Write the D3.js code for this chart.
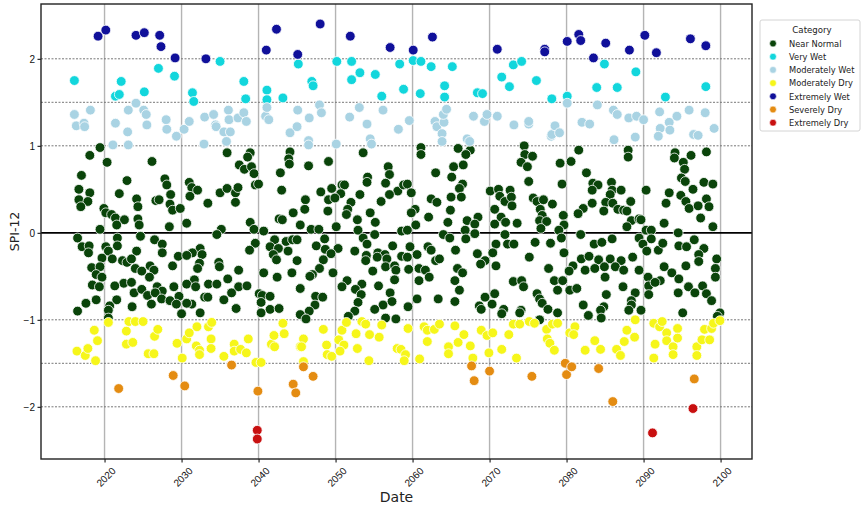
<!DOCTYPE html>
<html>
<head>
<meta charset="utf-8">
<script src="https://cdn.jsdelivr.net/npm/d3@7"></script>
<style>
  html, body { margin: 0; padding: 0; background: #fff; overflow: hidden; }
  svg { display: block; font-family: "DejaVu Sans", sans-serif; }
</style>
</head>
<body>
<svg id="chart" width="862" height="508"></svg>
<script>
// SPI-12 values: [year, spi]
var near_normal = [
  [2019.4,0.98],[2018.1,0.89],[2020.3,0.81],[2026.2,0.82],[2017.0,0.66],[2022.9,0.60],[2027.8,0.62],[2016.7,0.50],
  [2018.1,0.46],[2021.9,0.45],[2028.1,0.55],[2028.6,0.44],[2016.7,0.38],[2017.8,0.36],[2016.9,0.30],[2024.2,0.39],
  [2024.3,0.30],[2026.7,0.37],[2027.1,0.38],[2028.5,0.33],[2028.8,0.26],[2029.8,0.28],[2019.9,0.28],[2020.2,0.23],
  [2020.9,0.21],[2021.4,0.17],[2022.6,0.15],[2021.6,0.09],[2024.3,0.16],[2024.5,0.09],[2019.4,0.04],[2028.4,0.07],
  [2016.5,-0.06],[2017.1,-0.16],[2018.0,-0.15],[2017.9,-0.23],[2021.7,-0.06],[2021.7,-0.15],[2024.7,-0.04],[2026.5,-0.08],
  [2027.5,-0.13],[2027.5,-0.23],[2020.2,-0.16],[2020.5,-0.21],[2024.2,-0.21],[2019.7,-0.29],[2021.0,-0.30],[2022.3,-0.32],
  [2022.9,-0.34],[2023.5,-0.30],[2029.6,-0.27],[2028.8,-0.38],[2018.3,-0.40],[2019.4,-0.39],[2024.0,-0.41],[2024.8,-0.44],
  [2025.9,-0.38],[2026.4,-0.43],[2018.9,-0.48],[2019.7,-0.51],[2018.4,-0.60],[2019.3,-0.62],[2022.5,-0.58],[2023.5,-0.57],
  [2021.3,-0.61],[2025.8,-0.51],[2026.8,-0.62],[2027.5,-0.67],[2029.0,-0.62],[2023.8,-0.69],[2024.8,-0.65],[2025.6,-0.72],
  [2026.6,-0.69],[2027.4,-0.76],[2029.7,-0.73],[2018.9,-0.77],[2021.6,-0.77],[2017.6,-0.81],[2020.7,-0.84],[2023.6,-0.85],
  [2026.1,-0.82],[2028.5,-0.78],[2029.3,-0.82],[2016.5,-0.90],[2020.5,-0.89],[2020.5,-0.98],[2030.0,-0.93],
  [2035.9,0.92],[2038.9,0.92],[2038.6,0.87],[2044.1,0.93],[2043.9,0.85],[2044.0,0.79],[2037.5,0.78],[2038.2,0.73],
  [2039.1,0.76],[2039.4,0.68],[2042.8,0.69],[2031.0,0.58],[2031.3,0.52],[2032.1,0.49],[2031.1,0.42],[2035.0,0.46],
  [2035.9,0.51],[2037.0,0.46],[2037.3,0.52],[2039.6,0.55],[2040.0,0.56],[2043.0,0.49],[2033.4,0.34],[2037.0,0.35],
  [2044.5,0.23],[2030.7,0.11],[2038.9,0.12],[2042.7,0.16],[2043.1,0.15],[2039.4,0.04],[2035.2,0.04],[2034.6,-0.02],
  [2040.7,0.02],[2042.1,-0.08],[2043.6,-0.10],[2044.4,-0.08],[2039.6,-0.12],[2038.8,-0.20],[2041.5,-0.16],[2042.6,-0.18],
  [2043.8,-0.21],[2032.4,-0.18],[2031.4,-0.23],[2032.7,-0.25],[2030.7,-0.26],[2041.9,-0.25],[2042.3,-0.31],[2034.8,-0.34],
  [2032.3,-0.35],[2032.1,-0.41],[2034.9,-0.39],[2037.4,-0.43],[2040.7,-0.46],[2044.3,-0.46],[2042.4,-0.51],[2036.0,-0.53],
  [2031.7,-0.54],[2030.7,-0.59],[2031.8,-0.62],[2033.5,-0.59],[2034.6,-0.59],[2037.4,-0.62],[2038.5,-0.61],[2036.5,-0.69],
  [2040.1,-0.70],[2040.5,-0.72],[2041.5,-0.73],[2033.0,-0.74],[2033.4,-0.74],[2035.5,-0.77],[2040.3,-0.80],[2031.3,-0.82],
  [2030.7,-0.81],[2037.1,-0.87],[2041.5,-0.88],[2042.7,-0.87],[2032.4,-0.92],[2040.3,-0.92],
  [2053.6,0.92],[2049.1,0.82],[2046.5,0.77],[2056.8,0.76],[2057.0,0.67],[2054.2,0.64],[2054.1,0.58],[2056.5,0.57],
  [2049.5,0.51],[2050.8,0.55],[2051.2,0.55],[2048.1,0.47],[2050.7,0.45],[2058.1,0.48],[2058.8,0.55],[2057.0,0.44],
  [2053.2,0.44],[2049.1,0.38],[2049.9,0.40],[2046.1,0.38],[2052.0,0.35],[2055.9,0.36],[2051.6,0.27],[2046.0,0.27],
  [2049.0,0.25],[2051.4,0.21],[2054.5,0.23],[2052.8,0.15],[2055.2,0.12],[2045.4,0.09],[2046.8,0.04],[2047.8,0.04],
  [2050.1,0.07],[2052.9,0.03],[2058.6,0.02],[2045.0,-0.08],[2048.6,-0.07],[2055.1,-0.02],[2053.6,-0.06],[2047.5,-0.15],
  [2048.7,-0.19],[2050.3,-0.18],[2054.1,-0.13],[2057.4,-0.15],[2052.5,-0.21],[2049.4,-0.24],[2054.0,-0.26],[2055.5,-0.23],
  [2056.4,-0.25],[2053.9,-0.32],[2055.4,-0.28],[2056.7,-0.30],[2058.6,-0.27],[2048.4,-0.31],[2045.0,-0.32],[2056.5,-0.39],
  [2057.7,-0.38],[2047.9,-0.41],[2054.8,-0.44],[2049.7,-0.46],[2057.8,-0.43],[2047.0,-0.48],[2046.7,-0.50],[2057.7,-0.54],
  [2051.5,-0.55],[2053.4,-0.59],[2045.4,-0.64],[2050.8,-0.62],[2052.6,-0.65],[2055.6,-0.61],[2053.3,-0.71],[2057.1,-0.69],
  [2047.4,-0.73],[2048.3,-0.74],[2057.3,-0.79],[2047.3,-0.83],[2052.9,-0.80],[2056.2,-0.83],[2046.6,-0.90],[2055.1,-0.88],
  [2052.5,-0.90],[2045.4,-0.94],[2046.2,-0.99],[2051.7,-0.96],[2056.5,-0.98],[2057.8,-0.99],
  [2061.1,0.98],[2061.1,0.90],[2065.9,0.97],[2067.5,0.95],[2066.9,0.90],[2063.0,0.69],[2065.3,0.76],[2066.6,0.78],
  [2065.1,0.64],[2066.5,0.56],[2066.1,0.51],[2059.3,0.56],[2059.8,0.46],[2066.3,0.41],[2065.0,0.41],[2062.4,0.39],
  [2063.2,0.35],[2070.1,0.48],[2071.2,0.50],[2072.7,0.49],[2071.3,0.42],[2072.0,0.36],[2072.8,0.41],[2072.9,0.31],
  [2060.3,0.27],[2059.8,0.23],[2064.9,0.26],[2070.7,0.27],[2071.5,0.18],[2068.5,0.18],[2062.1,0.18],[2067.1,0.14],
  [2064.6,0.12],[2068.1,0.10],[2060.4,0.09],[2070.7,0.10],[2072.1,0.12],[2066.8,0.03],[2059.3,0.03],[2064.0,-0.02],
  [2064.8,-0.06],[2066.9,-0.07],[2068.1,-0.01],[2072.0,-0.02],[2072.3,-0.13],[2070.8,-0.13],[2073.2,-0.13],[2059.7,-0.16],
  [2062.0,-0.16],[2062.4,-0.20],[2060.6,-0.25],[2065.6,-0.20],[2068.4,-0.24],[2070.4,-0.23],[2063.0,-0.32],[2063.5,-0.30],
  [2069.4,-0.32],[2068.8,-0.36],[2070.8,-0.38],[2059.3,-0.28],[2059.5,-0.42],[2060.8,-0.41],[2061.7,-0.43],[2065.8,-0.41],
  [2066.5,-0.46],[2062.2,-0.51],[2060.8,-0.55],[2065.5,-0.55],[2073.1,-0.56],[2066.1,-0.66],[2069.4,-0.74],[2070.7,-0.70],
  [2060.6,-0.76],[2063.3,-0.76],[2065.5,-0.79],[2070.3,-0.82],[2068.7,-0.84],[2068.9,-0.88],[2071.8,-0.88],[2071.6,-0.93],
  [2059.4,-0.85],
  [2074.5,1.00],[2074.6,0.90],[2075.6,0.88],[2074.1,0.81],[2074.9,0.76],[2081.6,0.95],[2079.2,0.80],[2080.6,0.82],
  [2082.6,0.69],[2075.1,0.59],[2079.4,0.56],[2083.4,0.57],[2084.1,0.55],[2085.8,0.58],[2083.3,0.49],[2085.9,0.49],
  [2087.1,0.49],[2085.7,0.44],[2075.7,0.40],[2076.2,0.36],[2077.0,0.38],[2078.2,0.33],[2083.3,0.34],[2085.1,0.35],
  [2086.0,0.34],[2076.6,0.27],[2082.2,0.28],[2081.5,0.22],[2084.8,0.25],[2086.7,0.27],[2087.4,0.26],[2076.8,0.20],
  [2076.5,0.14],[2077.4,0.13],[2079.6,0.20],[2079.7,0.09],[2073.6,0.11],[2076.7,0.05],[2079.0,0.03],[2079.3,-0.06],
  [2081.8,-0.02],[2075.9,-0.11],[2077.9,-0.12],[2083.6,-0.13],[2084.6,-0.11],[2085.9,-0.07],[2079.7,-0.23],[2075.2,-0.28],
  [2081.9,-0.30],[2082.9,-0.27],[2084.2,-0.31],[2085.7,-0.30],[2087.1,-0.32],[2080.8,-0.38],[2082.4,-0.43],[2083.7,-0.41],
  [2084.9,-0.39],[2086.3,-0.39],[2087.4,-0.43],[2077.7,-0.41],[2080.3,-0.44],[2085.0,-0.51],[2078.4,-0.55],[2079.5,-0.55],
  [2074.2,-0.55],[2074.4,-0.62],[2080.4,-0.66],[2081.3,-0.64],[2078.8,-0.66],[2085.2,-0.71],[2087.3,-0.62],[2076.2,-0.70],
  [2076.5,-0.76],[2082.2,-0.83],[2076.8,-0.81],[2077.6,-0.88],[2084.8,-0.85],[2084.4,-0.89],[2074.1,-0.89],[2073.9,-0.92],
  [2078.8,-0.92],[2082.8,-0.95],[2084.5,-0.98],[2076.5,-1.00],
  [2088.0,0.95],[2088.0,0.87],[2094.1,0.92],[2094.0,0.86],[2096.2,0.89],[2098.2,0.93],[2095.2,0.81],[2095.3,0.73],
  [2094.9,0.63],[2095.4,0.59],[2097.8,0.58],[2099.0,0.56],[2090.3,0.49],[2096.4,0.50],[2093.3,0.46],[2094.8,0.43],
  [2098.2,0.39],[2088.3,0.36],[2092.9,0.34],[2095.5,0.36],[2095.9,0.28],[2097.1,0.31],[2098.5,0.30],[2087.8,0.25],
  [2097.4,0.17],[2088.4,0.14],[2089.4,0.16],[2089.7,0.15],[2092.7,0.11],[2099.0,0.07],[2087.8,0.07],[2090.3,0.03],
  [2091.0,0.03],[2094.5,0.00],[2089.4,-0.06],[2091.0,-0.07],[2089.9,-0.13],[2090.4,-0.21],[2091.9,-0.20],[2092.5,-0.12],
  [2094.6,-0.15],[2095.6,-0.16],[2096.6,-0.08],[2097.8,-0.18],[2097.2,-0.25],[2088.6,-0.28],[2097.2,-0.33],[2099.5,-0.30],
  [2099.3,-0.41],[2092.7,-0.39],[2095.5,-0.38],[2089.4,-0.43],[2093.7,-0.46],[2099.3,-0.51],[2090.6,-0.51],[2094.6,-0.53],
  [2092.2,-0.55],[2090.7,-0.61],[2095.8,-0.62],[2097.7,-0.61],[2091.5,-0.57],[2088.9,-0.69],[2094.5,-0.69],[2096.7,-0.69],
  [2098.2,-0.70],[2090.7,-0.71],[2098.8,-0.78],[2088.4,-0.78],[2088.4,-0.83],[2088.1,-0.89],[2089.7,-0.89],[2095.1,-0.92],
  [2099.9,-0.92],[2099.6,-0.96]
];

var very_wet = [
  [2016.1,1.75],[2022.2,1.74],[2021.4,1.57],[2021.9,1.59],[2025.2,1.62],[2027.0,1.89],[2029.1,1.80],[2031.4,1.61],
  [2031.6,1.51],[2035.0,1.97],[2038.1,1.74],[2038.3,1.54],[2041.1,1.64],[2041.1,1.53],[2043.2,1.55],[2045.2,1.94],
  [2046.9,1.74],[2047.1,1.69],[2050.2,1.97],[2052.1,1.97],[2052.1,1.76],[2053.2,1.84],[2055.2,1.82],[2056.0,1.57],
  [2058.3,1.94],[2058.8,1.65],[2060.1,1.98],[2061.1,1.97],[2061.0,1.60],[2062.4,1.91],[2064.2,1.69],[2064.2,1.56],
  [2065.2,1.91],[2068.4,1.61],[2069.1,1.60],[2071.6,1.79],[2072.6,1.68],[2073.1,1.93],[2074.2,1.97],[2076.1,1.75],
  [2078.1,1.54],[2080.1,1.57],[2084.9,1.94],[2083.9,1.67],[2086.6,1.67],[2089.0,1.85],[2092.8,1.56],[2098.1,1.68]
];

var moderately_wet = [
  [2016.1,1.36],[2016.3,1.23],[2017.3,1.26],[2017.4,1.22],[2018.2,1.41],[2021.1,1.01],[2021.4,1.26],[2023.0,1.16],
  [2023.1,1.41],[2023.1,1.01],[2024.1,1.49],[2025.1,1.41],[2025.4,1.36],[2025.5,1.24],[2028.0,1.30],[2028.1,1.19],
  [2029.3,1.11],[2030.3,1.19],[2031.0,1.28],[2032.9,1.02],[2033.0,1.33],[2034.2,1.36],[2034.4,1.24],[2034.5,1.22],
  [2035.5,1.16],[2036.3,1.16],[2035.8,1.05],[2036.1,1.41],[2036.2,1.30],[2037.3,1.32],[2038.1,1.38],[2038.4,1.28],
  [2040.9,1.34],[2041.3,1.30],[2041.1,1.44],[2044.1,1.15],[2045.0,1.22],[2045.1,1.41],[2046.5,1.06],[2046.5,1.01],
  [2046.6,1.32],[2047.9,1.47],[2048.2,1.38],[2050.1,1.02],[2051.8,1.33],[2053.1,1.44],[2054.1,1.25],[2054.5,1.08],
  [2054.7,1.02],[2056.2,1.41],[2058.2,1.19],[2059.6,1.29],[2062.9,1.28],[2063.2,1.22],[2064.1,1.27],[2064.0,1.36],
  [2064.4,1.42],[2063.8,1.14],[2063.8,1.05],[2067.1,1.08],[2067.4,1.05],[2067.9,1.34],[2069.3,1.28],[2069.7,1.36],
  [2071.0,1.34],[2073.2,1.24],[2075.1,1.25],[2075.1,1.28],[2078.0,1.11],[2078.1,1.13],[2078.5,1.23],[2079.1,1.15],
  [2080.1,1.49],[2082.0,1.27],[2083.0,1.25],[2084.0,1.47],[2086.1,1.41],[2086.6,1.36],[2086.2,1.07],[2088.1,1.32],
  [2089.1,1.34],[2090.0,1.30],[2088.9,1.10],[2092.1,1.39],[2092.2,1.20],[2091.9,1.11],[2093.3,1.27],[2093.4,1.18],
  [2094.3,1.34],[2095.9,1.41],[2096.5,1.13],[2097.1,1.12],[2098.0,1.38],[2099.2,1.20]
];

var moderately_dry = [
  [2016.4,-1.36],[2017.5,-1.41],[2017.8,-1.33],[2018.7,-1.12],[2019.1,-1.24],[2018.8,-1.47],[2020.5,-1.03],[2022.8,-1.13],
  [2022.8,-1.28],[2023.7,-1.26],[2023.2,-1.02],[2024.0,-1.02],[2025.0,-1.02],[2026.5,-1.19],[2026.9,-1.11],[2025.7,-1.39],
  [2026.4,-1.39],[2029.4,-1.27],[2030.1,-1.44],[2030.7,-1.22],[2031.0,-1.15],[2032.0,-1.08],[2031.9,-1.30],[2032.3,-1.35],
  [2032.3,-1.40],[2033.5,-1.08],[2033.9,-1.03],[2033.8,-1.22],[2033.8,-1.33],[2035.5,-1.42],[2036.8,-1.28],[2036.8,-1.36],
  [2037.7,-1.34],[2038.4,-1.38],[2038.7,-1.22],[2039.7,-1.49],[2040.3,-1.49],[2041.7,-1.28],[2042.0,-1.18],[2042.1,-1.31],
  [2043.2,-1.04],[2043.3,-1.16],[2045.4,-1.31],[2045.8,-1.22],[2045.6,-1.31],[2045.8,-1.48],[2048.4,-1.11],[2048.8,-1.29],
  [2048.9,-1.40],[2049.5,-1.42],[2050.4,-1.23],[2050.8,-1.12],[2051.1,-1.29],[2050.6,-1.36],[2051.4,-1.03],[2052.7,-1.16],
  [2052.8,-1.33],[2053.4,-1.02],[2053.9,-1.05],[2054.4,-1.17],[2054.3,-1.47],[2055.7,-1.20],[2056.0,-1.06],[2058.0,-1.33],
  [2058.5,-1.34],[2059.1,-1.40],[2058.9,-1.47],[2059.4,-1.10],[2060.9,-1.45],[2061.5,-1.08],[2061.9,-1.12],[2061.9,-1.25],
  [2062.8,-1.11],[2063.5,-1.05],[2064.7,-1.31],[2064.7,-1.39],[2065.5,-1.07],[2065.9,-1.26],[2066.7,-1.17],[2067.5,-1.30],
  [2067.8,-1.44],[2068.9,-1.12],[2069.7,-1.18],[2069.9,-1.38],[2070.4,-1.15],[2071.6,-1.34],[2072.5,-1.17],[2073.1,-1.05],
  [2073.9,-1.05],[2073.5,-1.44],[2075.2,-1.02],[2075.8,-1.04],[2077.4,-1.11],[2077.5,-1.22],[2077.8,-1.27],[2078.4,-1.35],
  [2078.2,-1.05],[2078.8,-1.04],[2080.4,-1.15],[2081.1,-1.08],[2080.9,-1.17],[2082.4,-1.35],[2083.7,-1.24],[2084.4,-1.34],
  [2086.5,-1.34],[2087.0,-1.41],[2087.5,-1.25],[2087.8,-1.12],[2088.8,-1.20],[2088.9,-1.00],[2091.3,-1.04],[2091.5,-1.28],
  [2091.3,-1.44],[2092.1,-1.08],[2092.4,-1.02],[2093.0,-1.15],[2093.0,-1.24],[2093.8,-1.31],[2093.8,-1.40],[2094.4,-1.10],
  [2094.4,-1.21],[2096.9,-1.31],[2096.9,-1.41],[2097.6,-1.23],[2097.9,-1.11],[2098.6,-1.23],[2098.8,-1.10],[2099.1,-1.04],
  [2099.9,-1.01]
];

var extremely_wet = [
  [2019.2,2.26],[2020.2,2.33],[2024.1,2.27],[2025.2,2.30],[2027.2,2.27],[2027.3,2.14],[2029.2,2.01],[2033.2,2.00],
  [2041.0,2.10],[2042.3,2.34],[2045.1,2.05],[2048.0,2.40],[2051.9,2.26],[2057.1,2.13],[2060.1,2.10],[2062.6,2.25],
  [2071.0,2.11],[2077.2,2.11],[2077.2,2.08],[2080.1,2.20],[2081.6,2.28],[2081.8,2.21],[2083.5,2.01],[2085.1,2.18],
  [2088.2,2.10],[2090.2,2.27],[2091.7,2.07],[2096.1,2.23],[2098.1,2.15]
];

var severely_dry = [
  [2021.8,-1.79],[2028.9,-1.64],[2030.4,-1.76],[2036.5,-1.52],[2039.9,-1.82],[2044.5,-1.74],[2044.8,-1.84],[2045.8,-1.54],
  [2047.1,-1.65],[2067.7,-1.53],[2068.0,-1.70],[2070.0,-1.59],[2075.5,-1.65],[2079.8,-1.50],[2080.0,-1.63],[2080.7,-1.54],
  [2084.2,-1.56],[2086.0,-1.94],[2096.6,-1.68]
];

var extremely_dry = [
  [2039.8,-2.27],[2039.8,-2.37],[2091.2,-2.30],[2096.4,-2.02]
];

var category_names = ['Near Normal', 'Very Wet', 'Moderately Wet', 'Moderately Dry', 'Extremely Wet', 'Severely Dry', 'Extremely Dry'];
var category_data = [near_normal, very_wet, moderately_wet, moderately_dry, extremely_wet, severely_dry, extremely_dry];
var category_colors = ['#0a440a', '#12d6dc', '#a9d3e3', '#f6f61a', '#10109a', '#e48c12', '#c81010'];

var x_ticks = [2020, 2030, 2040, 2050, 2060, 2070, 2080, 2090, 2100];
var y_ticks = [-2, -1, 0, 1, 2];
var threshold_lines = [-2, -1.5, -1, 1, 1.5, 2];

var svg = d3.select('#chart');
var margin = { top: 4, right: 110, bottom: 49, left: 41 };
var innerWidth = 862 - margin.left - margin.right;
var innerHeight = 508 - margin.top - margin.bottom;

function toDate(y) {
  var yr = Math.floor(y);
  return new Date(yr, Math.round((y - yr) * 12), 1);
}

var xScale = d3.scaleTime()
  .domain([toDate(2011.78), toDate(2104.12)])
  .range([0, innerWidth]);

var yScale = d3.scaleLinear()
  .domain([-2.6, 2.63])
  .range([innerHeight, 0]);

var g = svg.append('g')
  .attr('transform', `translate(${margin.left}, ${margin.top})`);

// vertical grid
g.selectAll('.vgrid')
  .data(x_ticks)
  .enter()
  .append('line')
  .attr('x1', d => xScale(new Date(d, 0, 1)))
  .attr('x2', d => xScale(new Date(d, 0, 1)))
  .attr('y1', 0)
  .attr('y2', innerHeight)
  .style('stroke', '#b4b4b4')
  .style('stroke-width', 1.4);

// threshold lines
g.selectAll('.hline')
  .data(threshold_lines)
  .enter()
  .append('line')
  .attr('x1', 0)
  .attr('x2', innerWidth)
  .attr('y1', d => yScale(d))
  .attr('y2', d => yScale(d))
  .style('stroke', '#777')
  .style('stroke-width', 1)
  .style('stroke-dasharray', '2,1.5');

g.append('line')
  .attr('x1', 0)
  .attr('x2', innerWidth)
  .attr('y1', yScale(0))
  .attr('y2', yScale(0))
  .style('stroke', '#000')
  .style('stroke-width', 1.8);

// points
category_data.forEach((arr, i) => {
  g.selectAll('.pt' + i)
    .data(arr)
    .enter()
    .append('circle')
    .attr('cx', d => xScale(toDate(d[0])))
    .attr('cy', d => yScale(d[1]))
    .attr('r', 4.9)
    .style('fill', category_colors[i])
    .style('stroke', '#fff')
    .style('stroke-width', 0.8);
});

// axes
var xAxis = d3.axisBottom(xScale)
  .tickValues(x_ticks.map(d => new Date(d, 0, 1)))
  .tickFormat(d3.timeFormat('%Y'))
  .tickSize(3.5);
var yAxis = d3.axisLeft(yScale)
  .tickValues(y_ticks)
  .tickFormat(d3.format('d'))
  .tickSize(3.5);

var gx = g.append('g')
  .attr('transform', `translate(0, ${innerHeight})`)
  .call(xAxis);
gx.select('.domain').remove();
gx.selectAll('text')
  .attr('y', 0)
  .attr('dy', '0.35em')
  .attr('transform', 'translate(1, 18) rotate(-45)')
  .style('text-anchor', 'middle')
  .style('font-size', '10px')
  .style('fill', '#111');

var gy = g.append('g').call(yAxis);
gy.select('.domain').remove();
gy.selectAll('text')
  .attr('x', -6)
  .style('font-size', '10px')
  .style('fill', '#111');

g.append('rect')
  .attr('x', 0)
  .attr('y', 0)
  .attr('width', innerWidth)
  .attr('height', innerHeight)
  .style('fill', 'none')
  .style('stroke', '#222')
  .style('stroke-width', 1.4);

g.append('text')
  .attr('x', innerWidth / 2)
  .attr('y', innerHeight + 43)
  .style('text-anchor', 'middle')
  .style('font-size', '14px')
  .style('fill', '#222')
  .text('Date');

g.append('text')
  .attr('x', -innerHeight / 2)
  .attr('y', -22)
  .attr('transform', 'rotate(-90)')
  .style('text-anchor', 'middle')
  .style('font-size', '12.5px')
  .style('fill', '#222')
  .text('SPI-12');

// legend
var lg = svg.append('g').attr('transform', 'translate(760, 20)');
lg.append('rect')
  .attr('width', 100)
  .attr('height', 111)
  .attr('rx', 2)
  .style('fill', '#fff')
  .style('stroke', '#d4d4d4');
lg.append('text')
  .attr('x', 52)
  .attr('y', 13)
  .style('text-anchor', 'middle')
  .style('font-size', '8.6px')
  .style('fill', '#222')
  .text('Category');
category_names.forEach((name, i) => {
  lg.append('circle')
    .attr('cx', 13)
    .attr('cy', 23.5 + i * 13.2)
    .attr('r', 3.4)
    .style('fill', category_colors[i])
    .style('stroke', '#fff')
    .style('stroke-width', 0.6);
  lg.append('text')
    .attr('x', 29)
    .attr('y', 26.7 + i * 13.2)
    .style('font-size', '8.3px')
    .style('fill', '#222')
    .text(name);
});
</script>
</body>
</html>
